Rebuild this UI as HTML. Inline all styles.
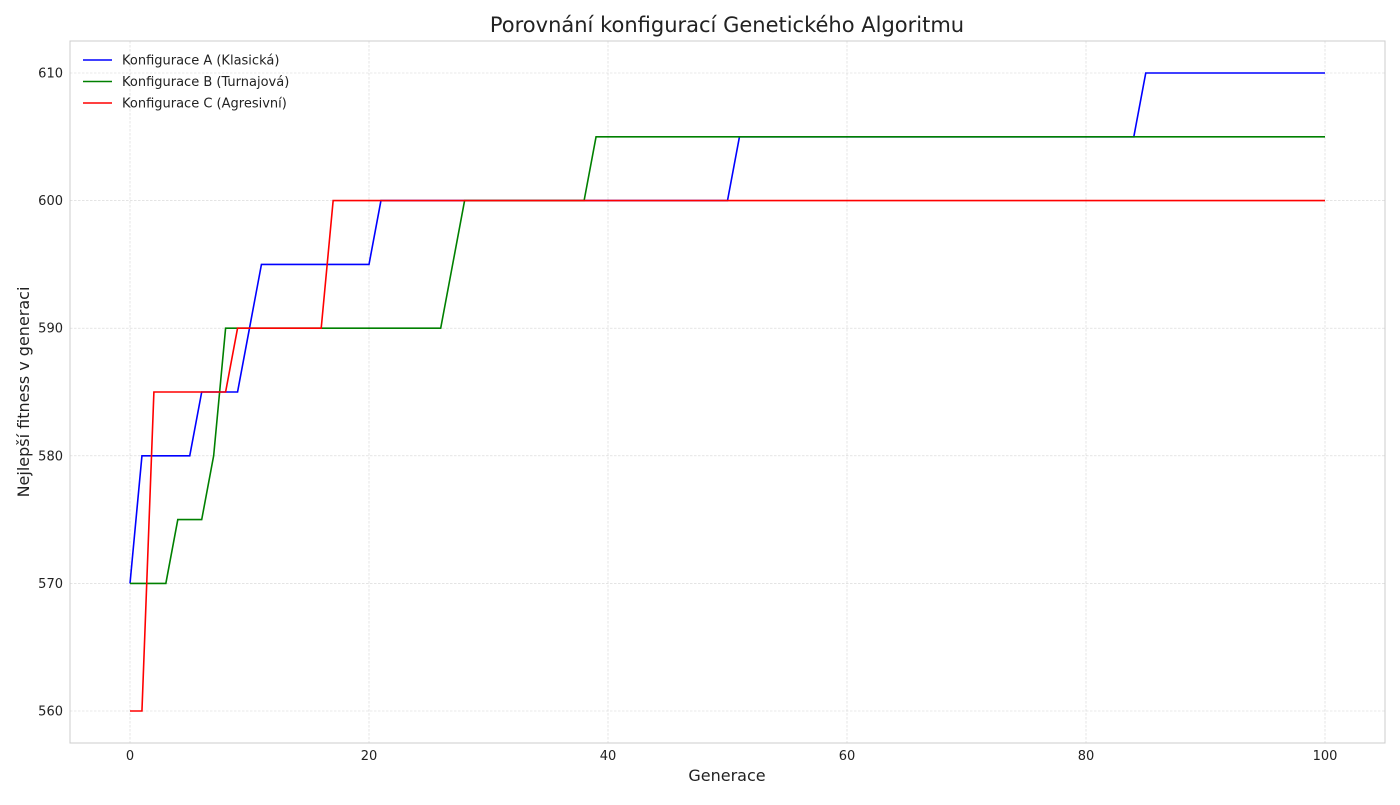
<!DOCTYPE html>
<html><head><meta charset="utf-8"><style>
body{margin:0;background:#fff;font-family:"Liberation Sans","DejaVu Sans",sans-serif;}
svg text{font-family:"DejaVu Sans","Liberation Sans",sans-serif;}
</style></head><body>
<svg id="chart" width="1400" height="800"></svg>
<script>
const genA=[0,1,5,6,9,10,11,20,21,50,51,84,85,100];
const fitA=[570,580,580,585,585,590,595,595,600,600,605,605,610,610];
const genB=[0,3,4,6,7,8,26,27,28,38,39,100];
const fitB=[570,570,575,575,580,590,590,595,600,600,605,605];
const genC=[0,1,2,8,9,16,17,100];
const fitC=[560,560,585,585,590,590,600,600];
const xTicks=[0,20,40,60,80,100];
const yTicks=[560,570,580,590,600,610];
const seriesNames=["Konfigurace A (Klasická)","Konfigurace B (Turnajová)","Konfigurace C (Agresivní)"];

const NS="http://www.w3.org/2000/svg";
const svg=document.getElementById('chart');
const L=70,R=1385,T=41,B=743;
const xs=v=>130+(v-0)*(1325-130)/100;
const ys=v=>711-(v-560)*(711-73)/50;
function mk(tag,attrs,parent){const e=document.createElementNS(NS,tag);for(const k in attrs)e.setAttribute(k,attrs[k]);(parent||svg).appendChild(e);return e;}

const grid=mk('g',{});


xTicks.forEach(t=>{
  const l=mk('line',{x1:xs(t),x2:xs(t),y1:T,y2:B,stroke:'#d4d4d4','stroke-width':0.6,'stroke-dasharray':'2.5,1.5'},grid);
  
  
  const tx=mk('text',{x:xs(t),y:B+17,'text-anchor':'middle','font-size':13,fill:'#222'});
  tx.textContent=t;
  
  
});
yTicks.forEach(t=>{
  const l=mk('line',{x1:L,x2:R,y1:ys(t),y2:ys(t),stroke:'#d4d4d4','stroke-width':0.6,'stroke-dasharray':'2.5,1.5'},grid);
  
  
  const tx=mk('text',{x:L-7,y:ys(t)+4.5,'text-anchor':'end','font-size':13,fill:'#222'});
  tx.textContent=t;
  
  
});
const frame=mk('rect',{x:L,y:T,width:R-L,height:B-T,fill:'none',stroke:'#ccc','stroke-width':1});



const colors=['#0000ff','#008000','#ff0000'];
[[genA,fitA],[genB,fitB],[genC,fitC]].forEach((s,i)=>{
  const p=s[0].map((g,j)=>xs(g)+','+ys(s[1][j])).join(' ');
  const pl=mk('polyline',{points:p,fill:'none',stroke:colors[i],'stroke-width':1.6});
  
  
});

const leg=mk('g',{});


seriesNames.forEach((n,i)=>{
  const y=60+i*21.5;
  const l=mk('line',{x1:83,x2:112,y1:y,y2:y,stroke:colors[i],'stroke-width':1.6},leg);
  
  
  const t=mk('text',{x:122,y:y+4.5,'font-size':13,fill:'#222'},leg);
  t.textContent=n;
  
  
});

const title=mk('text',{x:727,y:32,'text-anchor':'middle','font-size':21,fill:'#222'});
title.textContent='Porovnání konfigurací Genetického Algoritmu';


const xt=mk('text',{x:727,y:781,'text-anchor':'middle','font-size':16,fill:'#222'});
xt.textContent='Generace';


const yt=mk('text',{x:0,y:0,'text-anchor':'middle','font-size':16,fill:'#222',transform:'translate(29,392) rotate(-90)'});
yt.textContent='Nejlepší fitness v generaci';


</script>
</body></html>
